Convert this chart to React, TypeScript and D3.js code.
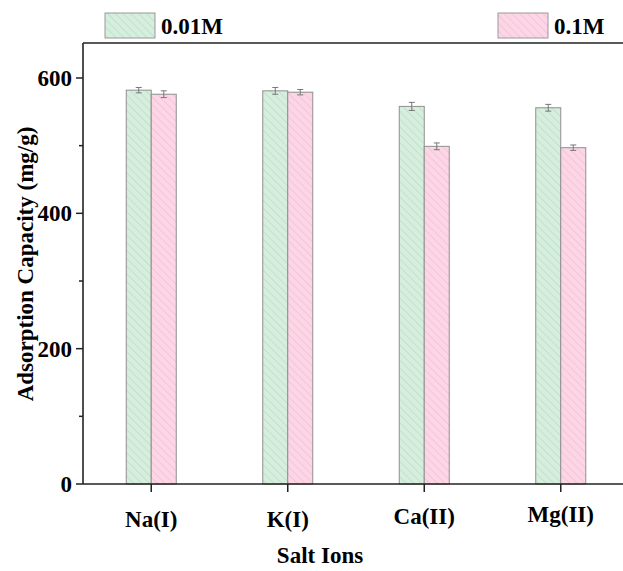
import * as d3 from 'd3'

const categories = ['Na(I)', 'K(I)', 'Ca(II)', 'Mg(II)']
const lowConc = [582, 581, 558, 556]
const lowErr = [4, 5, 6, 5]
const highConc = [576, 579, 499, 497]
const highErr = [5, 4, 5, 4]
const yTicks = [0, 200, 400, 600]
const yMinor = [100, 300, 500]

const series = [
  { name: '0.01M', values: lowConc, errs: lowErr, fill: '#d6eedd', hatch: '#9ec9aa', id: 'hg' },
  { name: '0.1M', values: highConc, errs: highErr, fill: '#fdd6e6', hatch: '#e2a3bd', id: 'hp' },
]

const W = 623, H = 571
const left = 83, top = 43, bottom = 484
const font = 'Liberation Serif, serif'
// tick labels in the original sit at slightly different heights
const labelBaseline = [527, 527, 524, 522]

export default function App() {
  const x = d3.scaleBand<string>().domain(categories).range([left, left + 4 * 136.5]).padding(0)
  const y = d3.scaleLinear().domain([0, 651.7]).range([bottom, top])
  const bw = 25

  return (
    <svg width={W} height={H} style={{ position: 'absolute', left: 0, top: 0, background: '#fff', fontFamily: font }}>
      <defs>
        {series.map(s => (
          <pattern key={s.id} id={s.id} patternUnits="userSpaceOnUse" width={5.5} height={5.5} patternTransform="rotate(-45)">
            <rect width={5.5} height={5.5} fill={s.fill} />
            <line x1={0} y1={0} x2={0} y2={5.5} stroke={s.hatch} strokeWidth={0.7} />
          </pattern>
        ))}
      </defs>

      {series.map((s, si) =>
        categories.map((c, i) => {
          const cx = x(c)! + x.bandwidth() / 2
          const x0 = si === 0 ? cx - bw : cx
          const yv = y(s.values[i])
          const ex = x0 + bw / 2
          const e1 = y(s.values[i] + s.errs[i]), e2 = y(s.values[i] - s.errs[i])
          return (
            <g key={s.id + c}>
              <rect x={x0} y={yv} width={bw} height={bottom - yv} fill={`url(#${s.id})`} stroke="#8f8f8f" strokeWidth={1} />
              <g stroke="#777" strokeWidth={1}>
                <line x1={ex} x2={ex} y1={e1} y2={e2} />
                <line x1={ex - 3} x2={ex + 3} y1={e1} y2={e1} />
                <line x1={ex - 3} x2={ex + 3} y1={e2} y2={e2} />
              </g>
            </g>
          )
        })
      )}

      {/* frame */}
      <line x1={left} x2={W} y1={top} y2={top} stroke="#222" strokeWidth={1.6} />
      <line x1={left} x2={left} y1={top} y2={bottom} stroke="#222" strokeWidth={1.6} />
      <line x1={left} x2={W} y1={bottom} y2={bottom} stroke="#222" strokeWidth={1.6} />

      {yTicks.map(t => (
        <g key={t}>
          <line x1={left - 7} x2={left} y1={y(t)} y2={y(t)} stroke="#222" strokeWidth={1.5} />
          <text x={left - 11} y={y(t)} dy="0.35em" textAnchor="end" fontSize={23} fontWeight="bold">{t}</text>
        </g>
      ))}
      {yMinor.map(t => (
        <line key={t} x1={left - 4} x2={left} y1={y(t)} y2={y(t)} stroke="#222" strokeWidth={1.5} />
      ))}

      {categories.map((c, i) => {
        const cx = x(c)! + x.bandwidth() / 2
        return (
          <g key={c}>
            <line x1={cx} x2={cx} y1={bottom} y2={bottom + 8} stroke="#222" strokeWidth={1.5} />
            <text x={cx} y={labelBaseline[i]} textAnchor="middle" fontSize={23} fontWeight="bold">{c}</text>
          </g>
        )
      })}

      <text x={320} y={563} textAnchor="middle" fontSize={23} fontWeight="bold">Salt Ions</text>
      <text transform="translate(33,264) rotate(-90)" textAnchor="middle" fontSize={23} fontWeight="bold">Adsorption Capacity (mg/g)</text>

      {/* legend */}
      {series.map((s, i) => {
        const lx = i === 0 ? 105 : 498
        return (
          <g key={s.name}>
            <rect x={lx} y={13} width={50} height={25} fill={`url(#${s.id})`} stroke="#999" strokeWidth={1} />
            <text x={lx + 56} y={34} fontSize={23} fontWeight="bold">{s.name}</text>
          </g>
        )
      })}
    </svg>
  )
}
